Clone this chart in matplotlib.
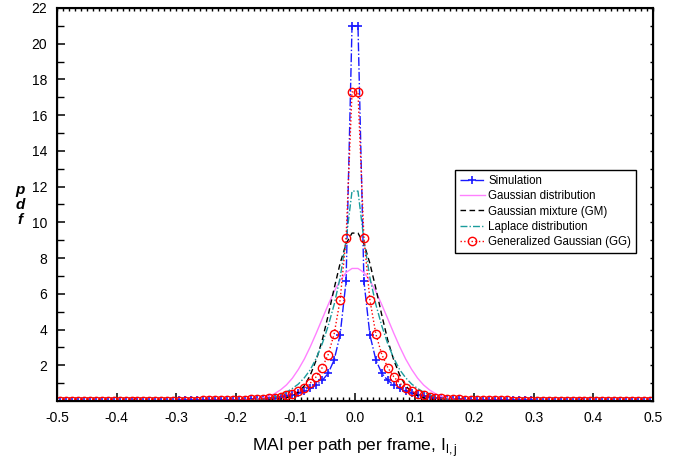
import numpy as np
import matplotlib
matplotlib.use("Agg")
import matplotlib.pyplot as plt

plt.rcParams['font.family'] = ['Liberation Sans', 'DejaVu Sans']
plt.rcParams['mathtext.fontset'] = 'custom'
plt.rcParams['mathtext.rm'] = 'Liberation Sans'

# bin centres (pdf at |x| = 0.005, 0.015, ... 0.495)
x_half = np.round(np.arange(0.005, 0.5, 0.01), 3)

sim_half = [21.0, 6.7, 3.7, 2.3, 1.55, 1.15, 0.9, 0.7, 0.55, 0.45,
            0.36, 0.29, 0.23, 0.19, 0.16, 0.13, 0.11, 0.09, 0.08, 0.07,
            0.06, 0.055, 0.05, 0.045, 0.04, 0.038, 0.035, 0.033, 0.03, 0.028,
            0.026, 0.025, 0.023, 0.022, 0.021, 0.02, 0.019, 0.018, 0.017, 0.016,
            0.015, 0.015, 0.014, 0.014, 0.013, 0.013, 0.012, 0.012, 0.011, 0.011]

gauss_half = [7.42, 7.19, 6.74, 6.13, 5.39, 4.6, 3.8, 3.04, 2.35, 1.77,
              1.28, 0.9, 0.62, 0.41, 0.26, 0.16, 0.097, 0.056, 0.032, 0.017,
              0.009, 0.005, 0.002, 0.001, 0.0, 0.0, 0.0, 0.0, 0.0, 0.0,
              0.0, 0.0, 0.0, 0.0, 0.0, 0.0, 0.0, 0.0, 0.0, 0.0,
              0.0, 0.0, 0.0, 0.0, 0.0, 0.0, 0.0, 0.0, 0.0, 0.0]

gm_half = [9.4, 8.8, 7.7, 6.3, 4.8, 3.4, 2.3, 1.45, 0.85, 0.5,
           0.3, 0.18, 0.11, 0.07, 0.05, 0.035, 0.025, 0.02, 0.016, 0.013,
           0.011, 0.01, 0.009, 0.008, 0.007, 0.006, 0.006, 0.005, 0.005, 0.004,
           0.004, 0.004, 0.003, 0.003, 0.003, 0.003, 0.002, 0.002, 0.002, 0.002,
           0.002, 0.002, 0.001, 0.001, 0.001, 0.001, 0.001, 0.001, 0.001, 0.001]

laplace_half = [11.75, 9.0, 6.9, 5.4, 4.2, 3.2, 2.4, 1.75, 1.3, 0.95,
                0.7, 0.5, 0.33, 0.23, 0.16, 0.11, 0.08, 0.06, 0.045, 0.035,
                0.025, 0.02, 0.015, 0.012, 0.009, 0.007, 0.005, 0.004, 0.003, 0.002,
                0.002, 0.001, 0.001, 0.001, 0.001, 0.0, 0.0, 0.0, 0.0, 0.0,
                0.0, 0.0, 0.0, 0.0, 0.0, 0.0, 0.0, 0.0, 0.0, 0.0]

gg_half = [17.3, 9.1, 5.65, 3.75, 2.6, 1.87, 1.36, 1.0, 0.73, 0.54,
           0.4, 0.31, 0.24, 0.19, 0.15, 0.12, 0.1, 0.085, 0.07, 0.06,
           0.05, 0.045, 0.04, 0.035, 0.032, 0.029, 0.026, 0.024, 0.022, 0.02,
           0.018, 0.017, 0.016, 0.015, 0.014, 0.013, 0.012, 0.011, 0.01, 0.01,
           0.009, 0.009, 0.008, 0.008, 0.007, 0.007, 0.007, 0.006, 0.006, 0.006]

x_ticks = [-0.5, -0.4, -0.3, -0.2, -0.1, 0.0, 0.1, 0.2, 0.3, 0.4, 0.5]
y_ticks = [2, 4, 6, 8, 10, 12, 14, 16, 18, 20, 22]


def mirror(half):
    # the curves are symmetric about 0
    half = np.asarray(half)
    return np.concatenate([half[::-1], half])


x = np.concatenate([-x_half[::-1], x_half])

fig = plt.figure(figsize=(6.9, 4.65), dpi=100)
ax = fig.add_axes([57/690, 64/465, 596/690, 393/465])

ax.plot(x, mirror(sim_half), color='#1a1aff', ls='-.', lw=1.0, marker='+',
        ms=6, mew=1.2, label='Simulation')
ax.plot(x, mirror(gauss_half), color='#ff80ff', ls='-', lw=1.0,
        label='Gaussian distribution')
ax.plot(x, mirror(gm_half), color='black', ls=(0, (4, 2.5)), lw=1.0,
        label='Gaussian mixture (GM)')
ax.plot(x, mirror(laplace_half), color='#1a9c9c', ls=(0, (5, 1.5, 1, 1.5)), lw=1.0,
        label='Laplace distribution')
ax.plot(x, mirror(gg_half), color='red', ls=':', lw=1.0, marker='o', ms=6,
        mfc='none', mec='red', mew=1.0, label='Generalized Gaussian (GG)')

ax.set_xlim(-0.5, 0.5)
ax.set_ylim(0, 22)
ax.set_xticks(x_ticks)
ax.set_xticklabels(['%.1f' % v for v in x_ticks])
ax.set_xticks(np.round(np.arange(-0.5, 0.501, 0.01), 2), minor=True)
ax.set_yticks(y_ticks)
ax.set_yticks(range(1, 22, 2), minor=True)
ax.tick_params(which='major', direction='in', length=6, width=1.1,
               labelsize=10, pad=7)
ax.tick_params(which='minor', direction='in', length=3, width=1.0)
ax.tick_params(axis='y', which='minor', length=5)
for s in ax.spines.values():
    s.set_linewidth(1.5)

# short ticks on top and right
axt = ax.twiny()
axt.set_xlim(-0.5, 0.5)
axt.set_xticks(np.round(np.arange(-0.5, 0.501, 0.01), 2))
axt.tick_params(direction='in', length=2.5, width=1.0, labeltop=False)
axr = ax.twinx()
axr.set_ylim(0, 22)
axr.set_yticks(range(0, 23))
axr.tick_params(direction='in', length=2.5, width=1.0, labelright=False)

ax.set_xlabel(r'MAI per path per frame, I$_{\mathrm{l,j}}$', fontsize=12.5, labelpad=8)
fig.text(20/690, 1 - 205/465, 'p\nd\nf', fontsize=11, fontweight='bold',
         fontstyle='italic', ha='center', va='center', linespacing=1.05)

leg = ax.legend(loc='upper left', bbox_to_anchor=(455/690, 1 - 170/465),
                bbox_transform=fig.transFigure, fontsize=8.3, frameon=True,
                fancybox=False, framealpha=1, edgecolor='black',
                handlelength=2.2, handletextpad=0.3, labelspacing=0.3,
                borderpad=0.4, borderaxespad=0)
leg.get_frame().set_linewidth(1.0)

fig.savefig('out.png', dpi=100)
